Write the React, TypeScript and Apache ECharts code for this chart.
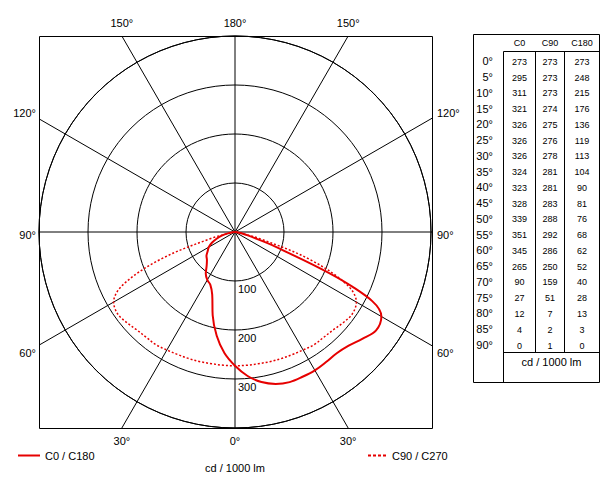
import React, { useEffect, useRef } from "react";
import * as echarts from "echarts";

const gammaAngles = [0, 5, 10, 15, 20, 25, 30, 35, 40, 45, 50, 55, 60, 65, 70, 75, 80, 85, 90];
const c0Values = [273, 295, 311, 321, 326, 326, 326, 324, 323, 328, 339, 351, 345, 265, 90, 27, 12, 4, 0];
const c90Values = [273, 273, 273, 274, 275, 276, 278, 281, 281, 283, 288, 292, 286, 250, 159, 51, 7, 2, 1];
const c180Values = [273, 248, 215, 176, 136, 119, 113, 104, 90, 81, 76, 68, 62, 52, 40, 28, 13, 3, 0];
const tableHeaders = ["C0", "C90", "C180"];
const radiusTicks = [100, 200, 300];
const radialLineAngles = [0, 30, 60, 90, 120, 150, 180, 210, 240, 270, 300, 330];
const topLabels = [
  { text: "150°", gamma: 150 },
  { text: "180°", gamma: 180 },
  { text: "150°", gamma: 210 },
];
const bottomLabels = [
  { text: "30°", gamma: 330 },
  { text: "0°", gamma: 0 },
  { text: "30°", gamma: 30 },
];
const sideLabels = [
  { text: "120°", gamma: 120, dy: -5 },
  { text: "90°", gamma: 90, dy: 3 },
  { text: "60°", gamma: 60, dy: 7 },
];
const seriesNames = ["C0 / C180", "C90 / C270"];
const unitLabel = "cd / 1000 lm";
const RMAX = 400;

const FONT = "'Liberation Sans', Arial, Helvetica, sans-serif";
const RED = "#e60000";

const CX = 235;
const CY = 232;
const R = 196;
const FL = 39;
const FR = 432;
const FT = 36;
const FB = 428;

function rayEnd(gamma: number) {
  const a = (gamma * Math.PI) / 180;
  const dx = Math.sin(a);
  const dy = Math.cos(a);
  let t = Infinity;
  if (Math.abs(dx) > 1e-9) t = Math.min(t, dx > 0 ? (FR - CX) / dx : (FL - CX) / dx);
  if (Math.abs(dy) > 1e-9) t = Math.min(t, dy > 0 ? (FB - CY) / dy : (FT - CY) / dy);
  return { x: CX + dx * t, y: CY + dy * t };
}

function buildOption() {
  const solid: number[][] = [];
  for (let i = gammaAngles.length - 1; i >= 1; i--) solid.push([c180Values[i], 360 - gammaAngles[i]]);
  for (let i = 0; i < gammaAngles.length; i++) solid.push([c0Values[i], gammaAngles[i]]);
  const dotted: number[][] = [];
  for (let i = gammaAngles.length - 1; i >= 1; i--) dotted.push([c90Values[i], 360 - gammaAngles[i]]);
  for (let i = 0; i < gammaAngles.length; i++) dotted.push([c90Values[i], gammaAngles[i]]);

  const graphics: any[] = [];
  graphics.push({
    type: "rect",
    z: 0,
    shape: { x: FL + 0.5, y: FT + 0.5, width: FR - FL, height: FB - FT },
    style: { fill: "none", stroke: "#000", lineWidth: 1 },
  });
  radialLineAngles.forEach((g) => {
    const e = rayEnd(g);
    graphics.push({
      type: "line",
      z: 1,
      shape: { x1: CX, y1: CY, x2: e.x, y2: e.y },
      style: { stroke: "#000", lineWidth: 1 },
    });
  });
  const textStyle = (extra: any) => ({ fontFamily: FONT, fontSize: 11, fill: "#000", ...extra });
  topLabels.forEach((l) => {
    const e = rayEnd(l.gamma);
    graphics.push({ type: "text", x: e.x, y: 23, style: textStyle({ text: l.text, align: "center", verticalAlign: "middle" }) });
  });
  bottomLabels.forEach((l) => {
    const e = rayEnd(l.gamma);
    graphics.push({ type: "text", x: e.x, y: 441, style: textStyle({ text: l.text, align: "center", verticalAlign: "middle" }) });
  });
  sideLabels.forEach((l) => {
    const e = rayEnd(l.gamma);
    graphics.push({ type: "text", x: FL - 3, y: e.y + l.dy, style: textStyle({ text: l.text, align: "right", verticalAlign: "middle" }) });
    graphics.push({ type: "text", x: FR + 5, y: e.y + l.dy, style: textStyle({ text: l.text, align: "left", verticalAlign: "middle" }) });
  });
  radiusTicks.forEach((v) => {
    graphics.push({
      type: "text",
      x: CX + 3,
      y: CY + (v / RMAX) * R + 7.5,
      z: 3,
      style: textStyle({ text: String(v), align: "left", verticalAlign: "middle" }),
    });
  });
  graphics.push({ type: "text", x: CX, y: 468, style: textStyle({ text: unitLabel, align: "center", verticalAlign: "middle" }) });

  const TL = 473.5, TR = 599.5, TT = 34.5, TB = 382.5;
  const colX = [503.5, 535.5, 564.5];
  const headY = 51.5;
  const footY = 352.5;
  const colCenters = [(colX[0] + colX[1]) / 2, (colX[1] + colX[2]) / 2, (colX[2] + TR) / 2];
  const line = (x1: number, y1: number, x2: number, y2: number) => ({
    type: "line",
    shape: { x1, y1, x2, y2 },
    style: { stroke: "#000", lineWidth: 1 },
  });
  graphics.push({ type: "rect", shape: { x: TL, y: TT, width: TR - TL, height: TB - TT }, style: { fill: "none", stroke: "#000", lineWidth: 1 } });
  graphics.push(line(colX[0], headY, TR, headY));
  graphics.push(line(colX[0], footY, TR, footY));
  graphics.push(line(colX[0], headY, colX[0], TB));
  graphics.push(line(colX[1], headY, colX[1], footY));
  graphics.push(line(colX[2], headY, colX[2], footY));
  tableHeaders.forEach((h, j) => {
    graphics.push({ type: "text", x: colCenters[j], y: 43, style: textStyle({ text: h, fontSize: 9, align: "center", verticalAlign: "middle" }) });
  });
  const rowStep = (345 - 61.3) / (gammaAngles.length - 1);
  const cols = [c0Values, c90Values, c180Values];
  gammaAngles.forEach((g, i) => {
    const y = 61.3 + i * rowStep;
    graphics.push({ type: "text", x: 493, y, style: textStyle({ text: g + "°", fontSize: 11, align: "right", verticalAlign: "middle" }) });
    cols.forEach((arr, j) => {
      graphics.push({ type: "text", x: colCenters[j], y: y + 0.5, style: textStyle({ text: String(arr[i]), fontSize: 9, align: "center", verticalAlign: "middle" }) });
    });
  });
  graphics.push({ type: "text", x: (colX[0] + TR) / 2, y: 362, style: textStyle({ text: unitLabel, align: "center", verticalAlign: "middle" }) });

  const legendText = { fontFamily: FONT, fontSize: 11, color: "#000" };

  return {
    animation: false,
    backgroundColor: "#fff",
    polar: { center: [CX, CY], radius: R },
    angleAxis: {
      type: "value",
      min: 0,
      max: 360,
      startAngle: 270,
      clockwise: false,
      axisLine: { show: true, lineStyle: { color: "#000", width: 1 } },
      axisTick: { show: false },
      axisLabel: { show: false },
      splitLine: { show: false },
    },
    radiusAxis: {
      type: "value",
      min: 0,
      max: RMAX,
      interval: 100,
      axisLine: { show: false },
      axisTick: { show: false },
      axisLabel: { show: false },
      splitLine: { show: true, lineStyle: { color: "#000", width: 1 } },
    },
    legend: [
      {
        data: [{ name: seriesNames[0], icon: "path://M0 0H22V2H0Z" }],
        left: 13,
        top: 445,
        itemWidth: 22,
        itemHeight: 2.5,
        selectedMode: false,
        textStyle: legendText,
      },
      {
        data: [
          {
            name: seriesNames[1],
            icon: "path://M0 0H3V2H0Z M5 0H8V2H5Z M10 0H13V2H10Z M15 0H18V2H15Z",
          },
        ],
        left: 363,
        top: 445,
        itemWidth: 20,
        itemHeight: 2,
        selectedMode: false,
        textStyle: legendText,
      },
    ],
    series: [
      {
        name: seriesNames[1],
        type: "line",
        coordinateSystem: "polar",
        data: dotted,
        smooth: 0.35,
        symbol: "none",
        z: 4,
        lineStyle: { color: RED, width: 1.5, type: [2, 2] },
        itemStyle: { color: RED },
      },
      {
        name: seriesNames[0],
        type: "line",
        coordinateSystem: "polar",
        data: solid,
        smooth: 0.35,
        symbol: "none",
        z: 5,
        lineStyle: { color: RED, width: 2 },
        itemStyle: { color: RED },
      },
    ],
    graphic: graphics,
  };
}

export default function App() {
  const ref = useRef<HTMLDivElement>(null);
  useEffect(() => {
    if (!ref.current) return;
    const chart = echarts.init(ref.current, undefined, { renderer: "svg" });
    chart.setOption(buildOption() as any);
    return () => chart.dispose();
  }, []);
  return <div ref={ref} style={{ position: "absolute", left: 0, top: 0, width: 606, height: 482 }} />;
}
